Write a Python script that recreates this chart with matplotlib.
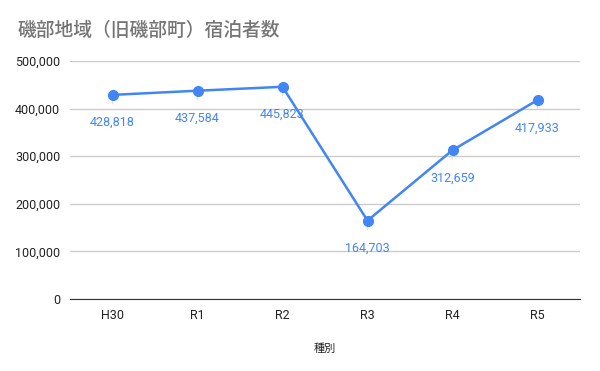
import matplotlib
matplotlib.use("Agg")
import matplotlib.pyplot as plt
from matplotlib.ticker import FuncFormatter

plt.rcParams['font.family'] = ['Noto Sans CJK JP', 'DejaVu Sans']

categories = ["H30", "R1", "R2", "R3", "R4", "R5"]
values = [428818, 437584, 445823, 164703, 312659, 417933]
yticks = [0, 100000, 200000, 300000, 400000, 500000]
title = "磯部地域（旧磯部町）宿泊者数"
xlabel = "種別"

blue = "#4285F4"
fig = plt.figure(figsize=(6, 3.71), dpi=100)
ax = fig.add_axes([70/600, 1-299/371, 510/600, 238/371])

x = list(range(len(categories)))
ax.plot(x, values, color=blue, lw=1.8, marker='o', ms=7, zorder=3)
for xi, v in zip(x, values):
    ax.annotate(f"{v:,}", (xi, v), xytext=(0, -20), textcoords='offset points',
                ha='center', va='center', color=blue, fontsize=9,
                family=['Roboto', 'DejaVu Sans'], zorder=2,
                arrowprops=dict(arrowstyle='-', color='#e0e0e0', lw=1, shrinkA=7, shrinkB=0))

ax.set_xlim(-0.5, len(categories) - 0.5)
ax.set_ylim(0, 500000)
ax.set_yticks(yticks)
ax.yaxis.set_major_formatter(FuncFormatter(lambda v, p: f"{int(v):,}"))
ax.set_xticks(x)
ax.set_xticklabels(categories)
ax.grid(axis='y', color='#cccccc', lw=1)
ax.set_axisbelow(True)
for s in ['top', 'right', 'left']:
    ax.spines[s].set_visible(False)
ax.spines['bottom'].set_color('#333333')
ax.tick_params(length=0, labelsize=9, colors='#222222', pad=7)
for lab in ax.get_xticklabels() + ax.get_yticklabels():
    lab.set_family(['Roboto', 'DejaVu Sans'])
ax.set_xlabel(xlabel, fontsize=8, color='#222222', labelpad=16)
fig.text(18/600, 1-30/371, title, fontsize=13.5, color='#757575', ha='left', va='center', fontweight='medium')

fig.savefig("out.png", dpi=100)
